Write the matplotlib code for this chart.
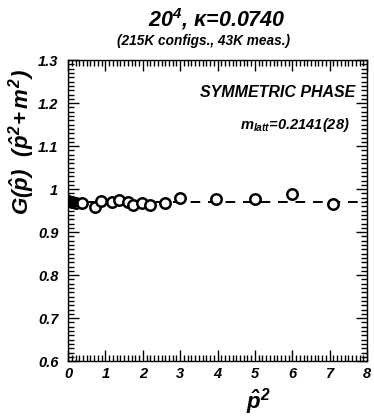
#!/usr/bin/env python3
"""Propagator times (p^2 + m^2) vs lattice momentum, symmetric phase."""

import matplotlib
matplotlib.use('Agg')
import matplotlib.pyplot as plt
from matplotlib.ticker import MultipleLocator

# Data
P2 = [0.0, 0.10, 0.20, 0.37, 0.72, 0.88, 1.17, 1.37, 1.61, 1.74, 1.97,
      2.19, 2.59, 3.00, 3.97, 5.00, 5.98, 7.08]
G_TIMES_P2M2 = [0.972, 0.970, 0.967, 0.967, 0.959, 0.973, 0.969, 0.974,
                0.969, 0.963, 0.967, 0.963, 0.968, 0.980, 0.978, 0.976,
                0.988, 0.965]
G_ERR = [0.007, 0.005, 0.005, 0.004, 0.004, 0.004, 0.004, 0.005, 0.005,
         0.005, 0.005, 0.004, 0.004, 0.004, 0.006, 0.005, 0.005, 0.004]
FIT_LEVEL = 0.971

Y_TICKS = [0.6, 0.7, 0.8, 0.9, 1.0, 1.1, 1.2, 1.3]
Y_TICK_LABELS = ['0.6', '0.7', '0.8', '0.9', '1', '1.1', '1.2', '1.3']
X_TICKS = [0, 1, 2, 3, 4, 5, 6, 7, 8]
X_TICK_LABELS = ['0', '1', '2', '3', '4', '5', '6', '7', '8']

FONT = 'Liberation Sans'


def setup_fonts():
    plt.rcParams['font.family'] = [FONT, 'DejaVu Sans']
    plt.rcParams['font.weight'] = 'bold'
    plt.rcParams['font.style'] = 'italic'
    plt.rcParams['mathtext.fontset'] = 'custom'
    for key in ('rm', 'it', 'bf', 'sf'):
        plt.rcParams[f'mathtext.{key}'] = f'{FONT}:italic:bold'


def main():
    setup_fonts()
    fig = plt.figure(figsize=(3.74, 4.17), dpi=100)
    ax = fig.add_axes([0.182, 0.134, 0.7995, 0.7218])

    # fit level (dashed)
    ax.plot([0, 8], [FIT_LEVEL, FIT_LEVEL], color='black', lw=1.4,
            dashes=(5, 4), zorder=1)

    ax.errorbar(P2, G_TIMES_P2M2, yerr=G_ERR, fmt='o', ms=7.5,
                mfc='white', mec='black', mew=1.8, ecolor='black',
                elinewidth=1.6, capsize=0, zorder=3)
    # lowest momenta are drawn solid in the reference
    ax.plot(P2[:2], G_TIMES_P2M2[:2], 'o', ms=8, color='black', zorder=4)

    ax.set_xlim(0, 8)
    ax.set_ylim(0.6, 1.3)
    ax.set_xticks(X_TICKS)
    ax.set_xticklabels(X_TICK_LABELS)
    ax.set_yticks(Y_TICKS)
    ax.set_yticklabels(Y_TICK_LABELS)
    ax.xaxis.set_minor_locator(MultipleLocator(0.1))
    ax.yaxis.set_minor_locator(MultipleLocator(0.01))
    ax.tick_params(which='both', direction='in', top=True, right=True,
                   width=1.0, labelsize=10.5)
    ax.tick_params(which='major', length=8)
    ax.tick_params(which='minor', length=4)
    ax.tick_params(axis='x', pad=4)
    ax.tick_params(axis='y', pad=7)
    for spine in ax.spines.values():
        spine.set_linewidth(1.0)

    ax.text(0.635, -0.135, r'$\hat{p}^2$', transform=ax.transAxes,
            ha='center', va='center', fontsize=16)
    ax.text(-0.155, 0.97, r'$G(\hat{p})\ \ (\hat{p}^2\!+m^2)$',
            transform=ax.transAxes, rotation=90, ha='center', va='top',
            fontsize=16)

    ax.text(0.96, 0.893, 'SYMMETRIC PHASE', transform=ax.transAxes,
            ha='right', va='center', fontsize=11.5)
    ax.text(0.94, 0.786, r'$m_{latt}$=0.2141(28)', transform=ax.transAxes,
            ha='right', va='center', fontsize=10.5)

    fig.text(0.58, 0.955, '20$^4$, κ=0.0740', ha='center', va='center',
             fontsize=15.5)
    fig.text(0.545, 0.902, '(215K configs., 43K meas.)', ha='center',
             va='center', fontsize=9.8)

    fig.savefig('out.png', dpi=100)
    plt.close(fig)


if __name__ == '__main__':
    main()
